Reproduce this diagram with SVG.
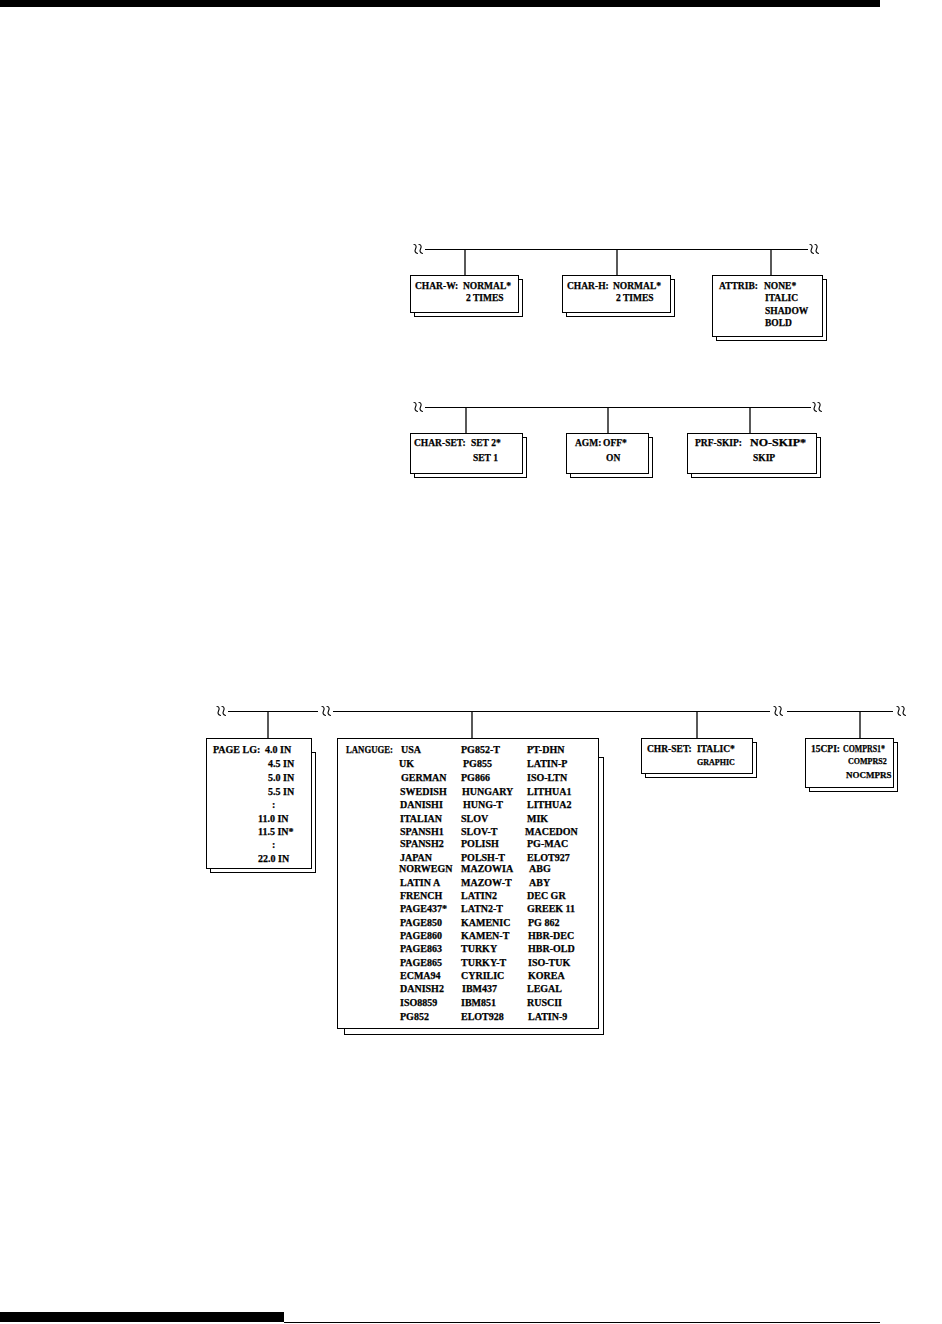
<svg xmlns="http://www.w3.org/2000/svg" xmlns:xlink="http://www.w3.org/1999/xlink" width="942" height="1324" viewBox="0 0 942 1324">
<style>
.box{fill:#fff;stroke:#000;stroke-width:1}
.ln{fill:none;stroke:#000;stroke-width:1}
.vl{fill:none;stroke:#000;stroke-width:1.3}
.sq{fill:none;stroke:#000;stroke-width:1.1;stroke-linecap:round}
text{font-family:"Liberation Serif","Times New Roman",serif;font-weight:bold;font-size:9.5px;fill:#000;stroke:#000;stroke-width:0.25}
.lg{font-size:10px}
.sm{font-size:8px}
.md{font-size:9px}
</style>
<defs>
<g id="brk">
<path class="sq" d="M-4,-5 C-1.5,-5 -1.5,-2.5 -2.5,-0.5 C-3.5,1.5 -3,3.5 -0.5,4"/>
<path class="sq" d="M1,-5 C3.5,-5 3.5,-2.5 2.5,-0.5 C1.5,1.5 2,3.5 4.5,4"/>
</g>
</defs>
<rect x="0" y="0" width="880" height="7" fill="#000"/>
<rect x="0" y="1312" width="284" height="10" fill="#000"/>
<line x1="284" y1="1322.5" x2="880" y2="1322.5" stroke="#000" stroke-width="1"/>

<g id="connectors">
<path class="ln" d="M425,249.5 H808"/>
<use xlink:href="#brk" x="418" y="249.5"/>
<use xlink:href="#brk" x="814" y="249.5"/>
<path class="vl" d="M465,249.5 V275 M617,249.5 V275 M771,249.5 V275"/>

<path class="ln" d="M425,407.5 H811"/>
<use xlink:href="#brk" x="418" y="407.5"/>
<use xlink:href="#brk" x="817" y="407.5"/>
<path class="vl" d="M466,407.5 V433 M608,407.5 V433 M750,407.5 V433"/>

<path class="ln" d="M228,711.5 H318 M333,711.5 H770 M787,711.5 H893"/>
<use xlink:href="#brk" x="221" y="711.5"/>
<use xlink:href="#brk" x="326" y="711.5"/>
<use xlink:href="#brk" x="778" y="711.5"/>
<use xlink:href="#brk" x="901" y="711.5"/>
<path class="vl" d="M268,711.5 V738 M472,711.5 V738 M697,711.5 V738 M860,711.5 V738"/>
</g>

<g id="char-w">
<rect class="box" x="414.5" y="279.5" width="108" height="37"/>
<rect class="box" x="410.5" y="275.5" width="108" height="37"/>
<text x="415" y="289">CHAR-W:</text><text x="463" y="289">NORMAL*</text>
<text x="466" y="301">2 TIMES</text>
</g>
<g id="char-h">
<rect class="box" x="566.5" y="279.5" width="108" height="37"/>
<rect class="box" x="562.5" y="275.5" width="108" height="37"/>
<text x="567" y="289">CHAR-H:</text><text x="613" y="289">NORMAL*</text>
<text x="616" y="301">2 TIMES</text>
</g>
<g id="attrib">
<rect class="box" x="716.5" y="279.5" width="110" height="61"/>
<rect class="box" x="712.5" y="275.5" width="110" height="61"/>
<text x="719" y="289">ATTRIB:</text><text x="764" y="289">NONE*</text>
<text x="765" y="301">ITALIC</text>
<text x="765" y="314">SHADOW</text>
<text x="765" y="326">BOLD</text>
</g>

<g id="char-set">
<rect class="box" x="414.5" y="437.5" width="112" height="40"/>
<rect class="box" x="410.5" y="433.5" width="112" height="40"/>
<text x="414" y="446">CHAR-SET:</text><text x="471" y="446">SET 2*</text>
<text x="473" y="461">SET 1</text>
</g>
<g id="agm">
<rect class="box" x="570.5" y="437.5" width="82" height="40"/>
<rect class="box" x="566.5" y="433.5" width="82" height="40"/>
<text x="575" y="446">AGM:</text><text x="603" y="446">OFF*</text>
<text x="606" y="461">ON</text>
</g>
<g id="prf-skip">
<rect class="box" x="691.5" y="437.5" width="129" height="40"/>
<rect class="box" x="687.5" y="433.5" width="129" height="40"/>
<text x="695" y="446">PRF-SKIP:</text><text x="750" y="446" textLength="56" lengthAdjust="spacingAndGlyphs">NO-SKIP*</text>
<text x="753" y="461">SKIP</text>
</g>

<g id="page-lg" class="lg">
<rect class="box" x="210.5" y="752.5" width="105" height="120"/>
<rect class="box" x="206.5" y="738.5" width="105" height="130"/>
<text class="lg" x="213" y="753">PAGE LG:</text><text class="lg" x="265" y="753">4.0 IN</text>
<text class="lg" x="268" y="767">4.5 IN</text>
<text class="lg" x="268" y="781">5.0 IN</text>
<text class="lg" x="268" y="795">5.5 IN</text>
<text class="lg" x="272" y="808">:</text>
<text class="lg" x="258" y="822">11.0 IN</text>
<text class="lg" x="258" y="835">11.5 IN*</text>
<text class="lg" x="272" y="848">:</text>
<text class="lg" x="258" y="862">22.0 IN</text>
</g>

<g id="languge">
<rect class="box" x="344.5" y="757.5" width="259" height="277"/>
<rect class="box" x="337.5" y="738.5" width="261" height="290"/>
<text class="lg" x="346" y="753" textLength="47" lengthAdjust="spacingAndGlyphs">LANGUGE:</text>
<g>
<text class="lg" x="401" y="753">USA</text><text class="lg" x="461" y="753">PG852-T</text><text class="lg" x="527" y="753">PT-DHN</text>
<text class="lg" x="399" y="767">UK</text><text class="lg" x="463" y="767">PG855</text><text class="lg" x="527" y="767">LATIN-P</text>
<text class="lg" x="401" y="781">GERMAN</text><text class="lg" x="461" y="781">PG866</text><text class="lg" x="527" y="781">ISO-LTN</text>
<text class="lg" x="400" y="795">SWEDISH</text><text class="lg" x="462" y="795">HUNGARY</text><text class="lg" x="527" y="795">LITHUA1</text>
<text class="lg" x="400" y="808">DANISHI</text><text class="lg" x="463" y="808">HUNG-T</text><text class="lg" x="527" y="808">LITHUA2</text>
<text class="lg" x="400" y="822">ITALIAN</text><text class="lg" x="461" y="822">SLOV</text><text class="lg" x="527" y="822">MIK</text>
<text class="lg" x="400" y="835">SPANSH1</text><text class="lg" x="461" y="835">SLOV-T</text><text class="lg" x="525" y="835">MACEDON</text>
<text class="lg" x="400" y="847">SPANSH2</text><text class="lg" x="461" y="847">POLISH</text><text class="lg" x="527" y="847">PG-MAC</text>
<text class="lg" x="400" y="861">JAPAN</text><text class="lg" x="461" y="861">POLSH-T</text><text class="lg" x="527" y="861">ELOT927</text>
<text class="lg" x="399" y="872">NORWEGN</text><text class="lg" x="461" y="872">MAZOWIA</text><text class="lg" x="529" y="872">ABG</text>
<text class="lg" x="400" y="886">LATIN A</text><text class="lg" x="461" y="886">MAZOW-T</text><text class="lg" x="529" y="886">ABY</text>
<text class="lg" x="400" y="899">FRENCH</text><text class="lg" x="461" y="899">LATIN2</text><text class="lg" x="527" y="899">DEC GR</text>
<text class="lg" x="400" y="912">PAGE437*</text><text class="lg" x="461" y="912">LATN2-T</text><text class="lg" x="527" y="912">GREEK 11</text>
<text class="lg" x="400" y="926">PAGE850</text><text class="lg" x="461" y="926">KAMENIC</text><text class="lg" x="528" y="926">PG 862</text>
<text class="lg" x="400" y="939">PAGE860</text><text class="lg" x="461" y="939">KAMEN-T</text><text class="lg" x="528" y="939">HBR-DEC</text>
<text class="lg" x="400" y="952">PAGE863</text><text class="lg" x="461" y="952">TURKY</text><text class="lg" x="528" y="952">HBR-OLD</text>
<text class="lg" x="400" y="966">PAGE865</text><text class="lg" x="461" y="966">TURKY-T</text><text class="lg" x="528" y="966">ISO-TUK</text>
<text class="lg" x="400" y="979">ECMA94</text><text class="lg" x="461" y="979">CYRILIC</text><text class="lg" x="528" y="979">KOREA</text>
<text class="lg" x="400" y="992">DANISH2</text><text class="lg" x="462" y="992">IBM437</text><text class="lg" x="527" y="992">LEGAL</text>
<text class="lg" x="400" y="1006">ISO8859</text><text class="lg" x="461" y="1006">IBM851</text><text class="lg" x="527" y="1006">RUSCII</text>
<text class="lg" x="400" y="1020">PG852</text><text class="lg" x="461" y="1020">ELOT928</text><text class="lg" x="528" y="1020">LATIN-9</text>
</g>
</g>

<g id="chr-set">
<rect class="box" x="645.5" y="742.5" width="111" height="35"/>
<rect class="box" x="641.5" y="738.5" width="111" height="35"/>
<text x="647" y="752">CHR-SET:</text><text x="697" y="752">ITALIC*</text>
<text class="sm" x="697" y="765">GRAPHIC</text>
</g>
<g id="cpi15">
<rect class="box" x="809.5" y="742.5" width="88" height="49"/>
<rect class="box" x="805.5" y="738.5" width="88" height="49"/>
<text x="811" y="752">15CPI:</text><text x="843" y="752" textLength="42" lengthAdjust="spacingAndGlyphs">COMPRS1*</text>
<text class="sm" x="848" y="764">COMPRS2</text>
<text class="md" x="846" y="778">NOCMPRS</text>
</g>
</svg>
